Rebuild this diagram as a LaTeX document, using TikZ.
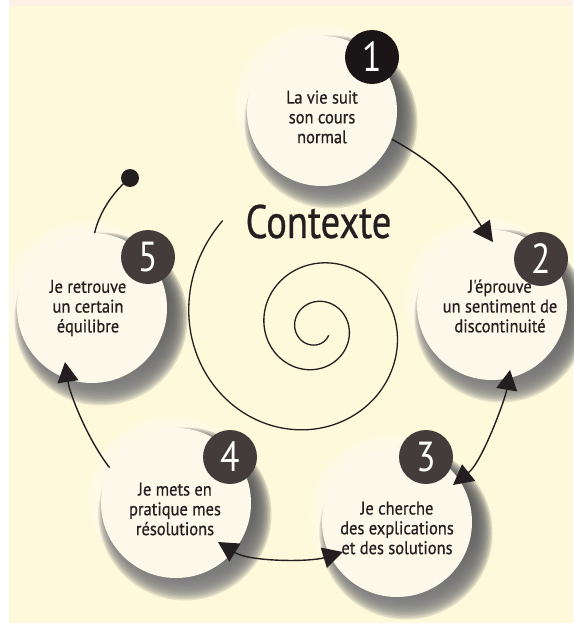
\documentclass[tikz,border=0pt]{standalone}
\usepackage{fontspec}
\setmainfont{PT Sans}
\newfontfamily\condfont[FakeStretch=0.9,FakeBold=0.6]{PT Sans}
\newfontfamily\titlefont[FakeStretch=0.82,FakeBold=0.6]{PT Sans}
\newfontfamily\digitfont[FakeStretch=0.85]{PT Sans}
\usetikzlibrary{arrows.meta,calc}

\definecolor{paper}{HTML}{FEF9DA}
\definecolor{topband}{HTML}{FCF1E4}
\definecolor{disc}{HTML}{FDF9EA}
\definecolor{ink}{HTML}{231F20}
\definecolor{shade}{HTML}{2B2324}
\definecolor{badgedark}{HTML}{1A1617}
\definecolor{badgegrey}{HTML}{433C3B}

\begin{document}
\begin{tikzpicture}[x=1pt,y=-1pt,
  stage/.style={circle, minimum size=150pt, inner sep=0pt, fill=disc},
  badge/.style={circle, minimum size=54pt, inner sep=0pt, fill=badgegrey,
    text=white, font=\digitfont\fontsize{42}{42}\selectfont},
  caption/.style={align=center, text=ink, inner sep=0pt,
    font=\condfont\fontsize{18.3}{19.8}\selectfont},
  link/.style={draw=ink, line width=1.4pt},
  head/.tip={Triangle[length=20pt,width=21pt]},
  spiral/.style={draw=ink, line width=1.3pt}
]
\useasboundingbox (0,0) rectangle (573,623);
% paper
\fill[white] (0,0) rectangle (573,623);
\fill[topband] (9,0) rectangle (573,6);
\fill[paper] (9,6) rectangle (573,623);

% centres of the five stages
\coordinate (p1) at (322,111);
\coordinate (p2) at (492,305);
\coordinate (p3) at (397,522);
\coordinate (p4) at (176,503);
\coordinate (p5) at (92,308);

% soft light rim up-left and dark drop shadow down-right
\foreach \p in {p1,p2,p3,p4,p5}{
  \foreach \r in {76,78,...,84}
    \fill[white, opacity=0.10] ([shift={(-5pt,5pt)}]\p) circle[radius=\r];
  \foreach \r in {64,65.5,...,87}
    \fill[shade, opacity=0.11] ([shift={(9pt,-11pt)}]\p) circle[radius=\r];
}

% the five stages
\node[stage] (c1) at (p1) {};
\node[stage] (c2) at (p2) {};
\node[stage] (c3) at (p3) {};
\node[stage] (c4) at (p4) {};
\node[stage] (c5) at (p5) {};

% central spiral
\draw[spiral] plot[domain=-49:870, samples=400, smooth, variable=\t]
  ({316+126*exp(-0.142*\t/57.2958)*cos(180-\t)},
   {328+126*exp(-0.142*\t/57.2958)*sin(180-\t)});
\node[text=ink, inner sep=0pt, anchor=base,
  font=\titlefont\fontsize{47}{47}\selectfont] (ctx) at (318.5,238) {Contexte};

% connectors
\node[circle, fill=ink, minimum size=18pt, inner sep=0pt] (dot) at (130,178) {};
\draw[link, -head] (c1.-22) .. controls (459,176) and (465.5,204)
  .. ($(c2.center)+(1,-63)$);
\draw[link, head-head] ($(c2.center)+(18,65)$) .. controls (505,400) and (482,462)
  .. ($(c3.center)+(56,-37)$);
\draw[link, head-head] ($(c4.center)+(42,39)$) .. controls (250,562) and (310,562)
  .. ($(c3.center)+(-54,30)$);
\draw[link, -head] (c4.152) .. controls (88,440) and (70,395)
  .. ($(c5.center)+(-27,54)$);
\draw[link] (c5.88) .. controls (100,210) and (115,190) .. (dot.center);

% numbered badges
\node[badge, fill=badgedark] (b1) at (372,57) {1};
\node[badge] (b2) at (541,259) {2};
\node[badge] (b3) at (426,457) {3};
\node[badge] (b4) at (230,457) {4};
\node[badge] (b5) at (148,257) {5};

% stage captions
\node[caption] (t1) at (322,117) {La vie suit\\son cours\\normal};
\node[caption] (t2) at (500,306) {J'éprouve\\un sentiment de\\discontinuité};
\node[caption] (t3) at (397,528) {Je cherche\\des explications\\et des solutions};
\node[caption] (t4) at (175,509) {Je mets en\\pratique mes\\résolutions};
\node[caption] (t5) at (88,308) {Je retrouve\\un certain\\équilibre};
\end{tikzpicture}
\end{document}
